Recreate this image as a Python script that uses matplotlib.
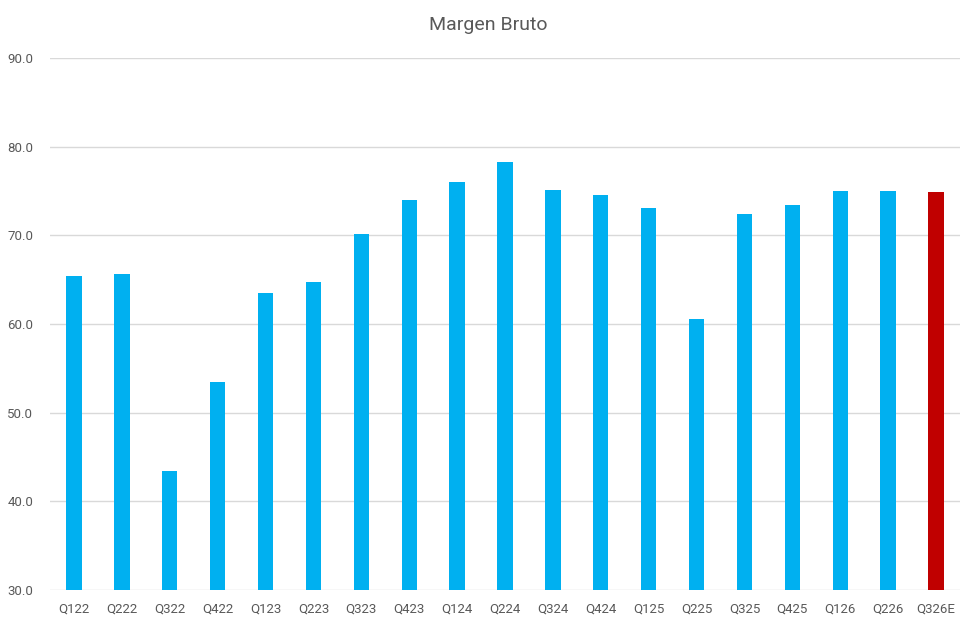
import matplotlib
matplotlib.use("Agg")
from matplotlib import pyplot as plt
import numpy as np

# quarters and gross margin (%)
quarters = ['Q122', 'Q222', 'Q322', 'Q422', 'Q123', 'Q223', 'Q323', 'Q423',
            'Q124', 'Q224', 'Q324', 'Q424', 'Q125', 'Q225', 'Q325', 'Q425',
            'Q126', 'Q226', 'Q326E']
margen = [65.4, 65.6, 43.4, 53.5, 63.5, 64.7, 70.1, 74.0,
          76.0, 78.3, 75.1, 74.6, 73.1, 60.6, 72.4, 73.4,
          75.0, 75.0, 74.9]
estimado = 'Q326E'

BLUE = '#00B0F0'
RED = '#C00000'
GREY_TXT = '#595959'

plt.rcParams['font.family'] = ['Roboto', 'DejaVu Sans']

fig = plt.figure(figsize=(9.77, 6.28), dpi=100)
ax = fig.add_axes([50 / 977, 1 - 590 / 628, 910 / 977, 532 / 628])

x = np.arange(len(quarters))
colours = [RED if q == estimado else BLUE for q in quarters]
ax.bar(x, margen, width=0.32, color=colours, zorder=3, bottom=0)

ax.set_xlim(-0.5, len(quarters) - 0.5)
ax.set_ylim(30, 90)
ax.set_yticks(np.arange(30, 91, 10))
ax.set_yticklabels([f'{v:.1f}' for v in np.arange(30, 91, 10)])
ax.set_xticks(x)
ax.set_xticklabels(quarters)

ax.grid(axis='y', color='#D9D9D9', linewidth=1, zorder=0)
for s in ax.spines.values():
    s.set_visible(False)
ax.tick_params(axis='both', length=0, labelsize=9.5, colors=GREY_TXT)
ax.tick_params(axis='x', pad=9)
ax.tick_params(axis='y', pad=12)

fig.text(0.5, 1 - 25 / 628, 'Margen Bruto', ha='center', va='center',
         fontsize=14, color=GREY_TXT)

fig.savefig('out.png', dpi=100)
